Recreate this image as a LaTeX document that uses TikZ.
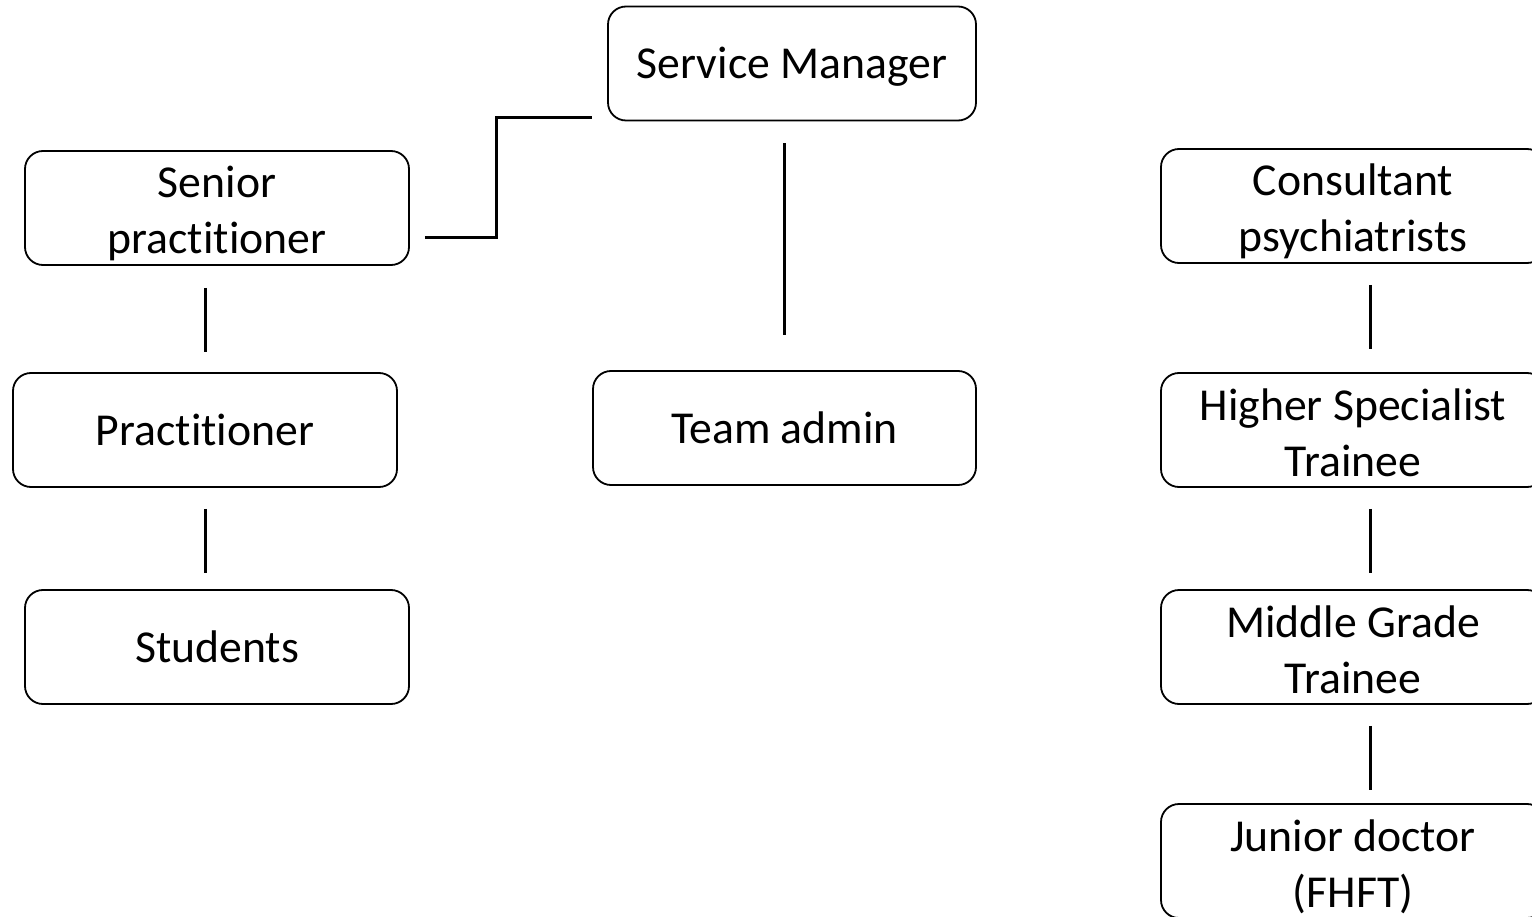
\documentclass[tikz,border=0pt]{standalone}
\usepackage{fontspec}
\setmainfont{Carlito}[Ligatures={NoCommon,TeX}]
\usetikzlibrary{calc}
% struts fix the space above the first line and below the last one,
% so every label sits at the same place in its box
\newcommand{\topstrut}{\rule{0pt}{42pt}}
\newcommand{\botstrut}{\rule[-12pt]{0pt}{0pt}}
\newcommand{\twolines}[2]{\rule{0pt}{46pt}#1\\#2\rule[-10pt]{0pt}{0pt}}
\tikzset{
  role/.style={draw=black, line width=1.8pt, rounded corners=18pt, fill=white,
    minimum width=384pt, minimum height=114pt, align=center, inner sep=0pt,
    font=\fontsize{45.7pt}{56pt}\selectfont},
  link/.style={draw=black, line width=3pt}
}
\begin{document}
\begin{tikzpicture}[x=1pt, y=-1pt]
\useasboundingbox (0,0) rectangle (1532,917);
\clip (0,0) rectangle (1532,917);
% management column
\node[role, minimum width=368pt] (sm) at (792,63.5) {\topstrut Service Manager\botstrut};
\node[role, minimum width=383pt] (ta) at (784.5,428) {\topstrut Team admin\botstrut};
% practitioner column
\node[role] (sp) at (217,208) {\twolines{Senior}{practitioner}};
\node[role] (pr) at (205,430) {\topstrut Practitioner\botstrut};
\node[role] (st) at (217,647) {\topstrut Students\botstrut};
% medical column
\node[role] (cp) at (1353,206) {\twolines{Consultant}{psychiatrists}};
\node[role] (hs) at (1353,430) {\twolines{Higher Specialist}{Trainee}};
\node[role] (mg) at (1353,647) {\twolines{Middle Grade}{Trainee}};
\node[role] (jd) at (1353,861) {\twolines{Junior doctor}{(FHFT)}};
% links
\coordinate (ea) at ($(sp.east)+(15,30)$);
\coordinate (eb) at ($(sm.west)+(-15,54.5)$);
\draw[link] (ea) -- (ea -| 496,0) |- (eb);
\draw[link, shorten <=22pt, shorten >=35pt] (ta.north |- sm.south) -- (ta.north);
\draw[link, shorten <=22pt, shorten >=20pt] (sp.south -| pr.north) -- (pr.north);
\draw[link, shorten <=21pt, shorten >=16pt] (pr.south) -- (st.north -| pr.south);
\draw[link, shorten <=21pt, shorten >=23pt] ([xshift=17pt]cp.south) -- ([xshift=17pt]hs.north);
\draw[link, shorten <=21pt, shorten >=16pt] ([xshift=17pt]hs.south) -- ([xshift=17pt]mg.north);
\draw[link, shorten <=21pt, shorten >=13pt] ([xshift=17pt]mg.south) -- ([xshift=17pt]jd.north);
\end{tikzpicture}
\end{document}
